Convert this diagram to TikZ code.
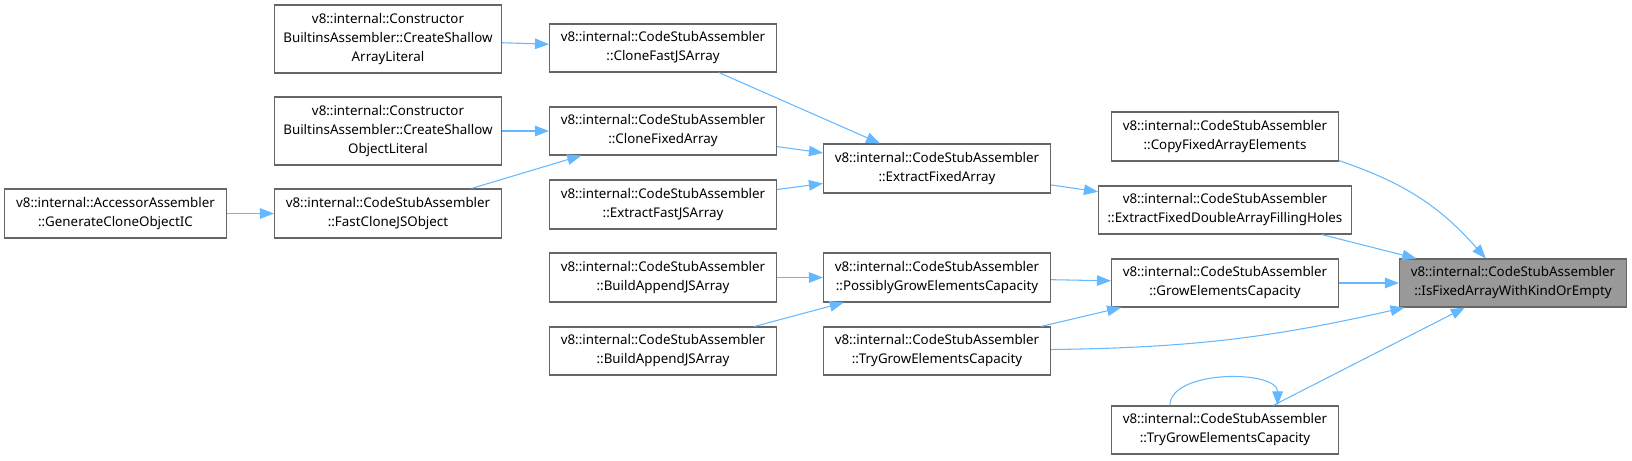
\documentclass[tikz,border=0pt]{standalone}
\usepackage{fontspec}
\setmainfont{Noto Sans}
\usetikzlibrary{arrows.meta}
\definecolor{edge}{HTML}{63B8FF}
\definecolor{frame}{HTML}{666666}
\definecolor{focus}{HTML}{999999}
\tikzset{
  fn/.style={draw=frame,fill=white,line width=0.6pt,inner sep=0pt,align=center,font=\fontsize{7.6}{10.8}\selectfont},
  call/.style={draw=edge,line width=0.6pt,-{Triangle[length=8pt,width=6pt]}},
}

\begin{document}
\begin{tikzpicture}[x=0.02cm,y=-0.02cm]
\useasboundingbox (0,0) rectangle (1632,460);
\foreach \n/\x/\y/\w/\h/\t in {
  arrLit/388/39/227/68/{v8::internal::Constructor\\BuiltinsAssembler::CreateShallow\\ArrayLiteral},
  objLit/388/131/227/68/{v8::internal::Constructor\\BuiltinsAssembler::CreateShallow\\ObjectLiteral},
  accGen/115.5/213.5/222/49/{v8::internal::AccessorAssembler\\::GenerateCloneObjectIC},
  fastObj/388/213.5/227/49/{v8::internal::CodeStubAssembler\\::FastCloneJSObject},
  cloneJS/663/48/227/48/{v8::internal::CodeStubAssembler\\::CloneFastJSArray},
  cloneFA/663/131/227/48/{v8::internal::CodeStubAssembler\\::CloneFixedArray},
  extJS/663/204.5/227/49/{v8::internal::CodeStubAssembler\\::ExtractFastJSArray},
  extFA/937/168.5/227/49/{v8::internal::CodeStubAssembler\\::ExtractFixedArray},
  build1/663/277.5/227/49/{v8::internal::CodeStubAssembler\\::BuildAppendJSArray},
  build2/663/351/227/48/{v8::internal::CodeStubAssembler\\::BuildAppendJSArray},
  possGrow/937/277.5/227/49/{v8::internal::CodeStubAssembler\\::PossiblyGrowElementsCapacity},
  tryMid/937/351/227/48/{v8::internal::CodeStubAssembler\\::TryGrowElementsCapacity},
  copyFA/1225/136.5/227/49/{v8::internal::CodeStubAssembler\\::CopyFixedArrayElements},
  extDbl/1225/210/253/48/{v8::internal::CodeStubAssembler\\::ExtractFixedDoubleArrayFillingHoles},
  grow/1225/283/227/48/{v8::internal::CodeStubAssembler\\::GrowElementsCapacity},
  tryBot/1225/430/227/48/{v8::internal::CodeStubAssembler\\::TryGrowElementsCapacity}}{
  \node[fn,minimum width=\w*0.02cm,minimum height=\h*0.02cm] (\n) at (\x,\y) {\t};
}
\node[fn,fill=focus,minimum width=227*0.02cm,minimum height=48*0.02cm] (isFixed) at (1513,283) {v8::internal::CodeStubAssembler\\::IsFixedArrayWithKindOrEmpty};

% callers -> callees
\foreach \a/\b in {arrLit/cloneJS,objLit/cloneFA,accGen/fastObj,fastObj/cloneFA,cloneJS/extFA,cloneFA/extFA,extJS/extFA,extFA/extDbl,extDbl/isFixed,grow/isFixed,possGrow/grow,build1/possGrow,build2/possGrow,tryMid/grow,tryBot/isFixed}
  \draw[call] (\a) -- (\b);
\draw[call] (copyFA) to[bend left=15] (isFixed);
\draw[call] (tryMid) to[bend right=6] (isFixed);
\draw[call] (tryBot.156) .. controls +(0,-36) and +(0,-36) .. (tryBot.25);
\end{tikzpicture}
\end{document}
